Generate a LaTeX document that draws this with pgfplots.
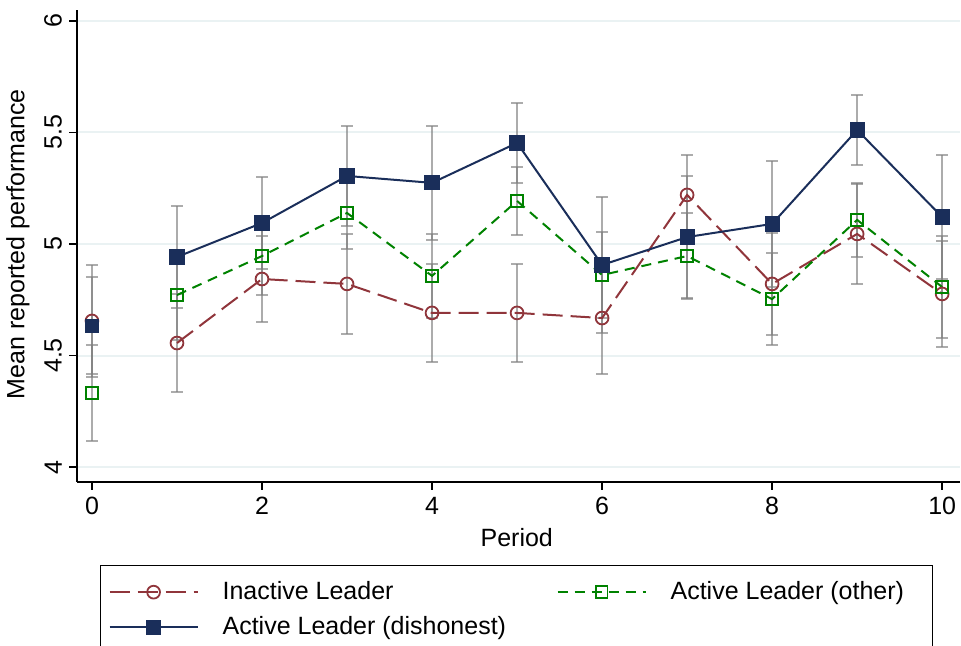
\documentclass[border=0pt]{standalone}
\usepackage{pgfplots}
\pgfplotsset{compat=1.18}
\usepackage{pgfplotstable}
\usepackage{fontspec}
\setmainfont{Liberation Sans}
\definecolor{cred}{RGB}{144,53,59}
\definecolor{cgreen}{RGB}{0,130,0}
\definecolor{cnavy}{RGB}{26,46,90}
\definecolor{cgrid}{RGB}{234,242,243}
\definecolor{cbar}{RGB}{128,128,128}

\pgfplotstableread{
x  r      re     g      ge     b      be
0  4.655  0.250  4.332  0.214  4.634  0.218
1  4.556  0.220  4.771  0.200  4.942  0.230
2  4.843  0.193  4.946  0.175  5.094  0.206
3  4.821  0.224  5.139  0.161  5.305  0.224
4  4.691  0.220  4.857  0.190  5.274  0.256
5  4.691  0.220  5.193  0.153  5.453  0.180
6  4.668  0.251  4.861  0.193  4.906  0.305
7  5.220  0.180  4.946  0.193  5.031  0.274
8  4.821  0.229  4.753  0.206  5.090  0.283
9  5.045  0.224  5.108  0.166  5.511  0.157
10 4.776  0.238  4.807  0.229  5.121  0.278
}\data

\pgfplotstableread{
x  r      g      b
1  4.556  4.771  4.942
2  4.843  4.946  5.094
3  4.821  5.139  5.305
4  4.691  4.857  5.274
5  4.691  5.193  5.453
6  4.668  4.861  4.906
7  5.220  4.946  5.031
8  4.821  4.753  5.090
9  5.045  5.108  5.511
10 4.776  4.807  5.121
}\datalines

\pgfplotstableread{
x  r      g      b
0  4.655  4.332  4.634
}\datazero

\begin{document}
\begin{tikzpicture}
\path[use as bounding box] (0,0) rectangle (480.5pt,323pt);
\begin{axis}[
  at={(38.5pt,82pt)}, anchor=south west,
  scale only axis, width=441.5pt, height=236pt,
  xmin=-0.176, xmax=10.21, ymin=3.933, ymax=6.049,
  axis x line*=bottom, axis y line*=left,
  axis line style={line width=0.8pt, -},
  xtick={0,2,4,6,8,10}, ytick={4,4.5,5,5.5,6},
  yticklabels={4,4.5,5,5.5,6},
  tick align=outside, major tick length=4pt,
  tick style={line width=0.8pt, black},
  ymajorgrids, grid style={cgrid, line width=1pt},
  font=\fontsize{12.5}{15}\selectfont,
  /pgf/number format/assume math mode=true,
  yticklabel style={rotate=90, anchor=south},
  xlabel={Period}, ylabel={Mean reported performance},
  every axis x label/.style={at={(axis description cs:0.498,-0.1186)}, anchor=center},
  every axis y label/.style={at={(axis description cs:-0.067,0.504)}, rotate=90, anchor=center},
  legend style={at={(axis description cs:0,0)}, anchor=north west, xshift=11.5pt, yshift=-41.5pt,
    draw=black, line width=0.6pt, inner xsep=4pt, inner ysep=6pt, row sep=3pt,
    font=\fontsize{12.5}{15}\selectfont,
    /tikz/every odd column/.append style={column sep=10pt},
    /tikz/every even column/.append style={column sep=8pt}},
  legend columns=2, legend cell align=left,
  legend image code/.code={\draw[mark repeat=2,mark phase=2,#1] plot coordinates {(0pt,0pt) (22pt,0pt) (44pt,0pt)};},
  clip=false,
]
% confidence intervals
\addplot[draw=none, mark=none, forget plot, error bars/.cd, y dir=both, y explicit,
  error bar style={draw=cbar, opacity=0.65, line width=1pt, solid}, error mark options={draw=cbar, opacity=0.65, line width=1pt, mark size=3pt, rotate=90}]
  table[x=x, y=r, y error=re]{\data};
\addplot[draw=none, mark=none, forget plot, error bars/.cd, y dir=both, y explicit,
  error bar style={draw=cbar, opacity=0.65, line width=1pt, solid}, error mark options={draw=cbar, opacity=0.65, line width=1pt, mark size=3pt, rotate=90}]
  table[x=x, y=g, y error=ge]{\data};
\addplot[draw=none, mark=none, forget plot, error bars/.cd, y dir=both, y explicit,
  error bar style={draw=cbar, opacity=0.65, line width=1pt, solid}, error mark options={draw=cbar, opacity=0.65, line width=1pt, mark size=3pt, rotate=90}]
  table[x=x, y=b, y error=be]{\data};
% period 0 markers (not connected)
\addplot[cred, only marks, mark=o, mark size=3.2pt, mark options={solid, line width=0.9pt, fill=none}, forget plot]
  table[x=x, y=r]{\datazero};
\addplot[cgreen, only marks, mark=square, mark size=2.9pt, mark options={solid, line width=0.9pt, fill=none}, forget plot]
  table[x=x, y=g]{\datazero};
\addplot[cnavy, only marks, mark=square*, mark size=3.3pt, mark options={solid, fill=cnavy}, forget plot]
  table[x=x, y=b]{\datazero};
% means
\addplot[cred, line width=1pt, dash pattern=on 10pt off 4pt, mark=o, mark size=3.2pt,
  mark options={solid, line width=0.9pt, fill=none}] table[x=x, y=r]{\datalines};
\addlegendentry{\makebox[157pt][l]{Inactive Leader}}
\addplot[cgreen, line width=1pt, dash pattern=on 5pt off 3.5pt, mark=square, mark size=2.9pt,
  mark options={solid, line width=0.9pt, fill=none}] table[x=x, y=g]{\datalines};
\addlegendentry{\makebox[125pt][l]{Active Leader (other)}}
\addplot[cnavy, line width=1pt, solid, mark=square*, mark size=3.3pt,
  mark options={solid, fill=cnavy}] table[x=x, y=b]{\datalines};
\addlegendentry{Active Leader (dishonest)}
\end{axis}
\end{tikzpicture}
\end{document}
